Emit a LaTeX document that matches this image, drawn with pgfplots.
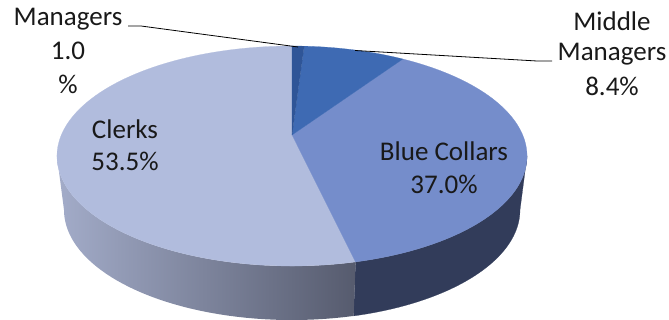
\documentclass[border=0pt]{standalone}
\usepackage{pgfplots}
\usepackage{pgfplotstable}
\usepackage{fontspec}
\setmainfont{Carlito}
\pgfplotsset{compat=1.18}

\definecolor{mgr}{HTML}{2F5597}
\definecolor{mid}{HTML}{3E6AB3}
\definecolor{blue}{HTML}{758DCB}
\definecolor{clk}{HTML}{B1BCDD}
\definecolor{bluewall}{HTML}{323C5A}
\definecolor{clkwallL}{HTML}{A3ACC9}
\definecolor{clkwallR}{HTML}{565B6E}

% Share of each occupational group, clockwise from twelve o'clock
\pgfplotstableread{
group share
Managers 1.0
Middle 8.4
Blue 37.0
Clerks 53.5
}\shares

\begin{document}
\begin{tikzpicture}[lbl/.style={font=\fontsize{27}{29}\selectfont, inner sep=0pt, text=black!90}]
\path (0,0) rectangle (669pt,320pt);

% Slice boundaries in degrees, accumulated from the shares
\pgfplotstablegetelem{0}{share}\of\shares \pgfmathsetmacro\aA{3.6*\pgfplotsretval}
\pgfplotstablegetelem{1}{share}\of\shares \pgfmathsetmacro\aB{\aA+3.6*\pgfplotsretval}
\pgfplotstablegetelem{2}{share}\of\shares \pgfmathsetmacro\aC{\aB+3.6*\pgfplotsretval}
\pgfmathsetmacro\aD{360}
% Silhouette of the disc in the tilted view
\def\sR{101}
\def\sL{259}
% Wall outlines run along the top rim, then back along the bottom rim
\pgfmathsetmacro\hB{(\aC-\sR)/45}
\pgfmathsetmacro\wallBend{2*\aC-\sR+\hB}
\pgfmathsetmacro\hC{(\sL-\aC)/45}
\pgfmathsetmacro\wallCend{2*\sL-\aC+\hC}

\begin{axis}[
  at={(0,0)}, anchor=south west,
  scale only axis, width=669pt, height=320pt,
  xmin=0, xmax=669, ymin=0, ymax=320, y dir=reverse,
  hide axis,
  samples=91,
  declare function={
    den(\t)=1+0.191*cos(\t);
    topx(\t)=292+230.7*sin(\t)/den(\t);
    topy(\t)=135-106*cos(\t)/den(\t);
    botx(\t)=292+223.8*sin(\t)/den(\t);
    boty(\t)=189-106*cos(\t)/den(\t);
  },
]
% Side wall of the disc
\addplot[draw=bluewall, line width=0.2pt, fill=bluewall, domain=\sR:\wallBend, samples=92]
  ({x<=\aC+0.01 ? topx(x) : botx(2*\aC-x+\hB)}, {x<=\aC+0.01 ? topy(x) : boty(2*\aC-x+\hB)}) -- cycle;
\addplot[draw=none, left color=clkwallL, right color=clkwallR, domain=\aC:\wallCend, samples=92]
  ({x<=\sL+0.01 ? topx(x) : botx(2*\sL-x+\hC)}, {x<=\sL+0.01 ? topy(x) : boty(2*\sL-x+\hC)}) -- cycle;

% Top face slices
\addplot[draw=clk, line width=0.2pt, fill=clk, domain=\aC:\aD] ({topx(x)},{topy(x)}) -- (axis cs:292,135) -- cycle;
\addplot[draw=blue, line width=0.2pt, fill=blue, domain=\aB:\aC] ({topx(x)},{topy(x)}) -- (axis cs:292,135) -- cycle;
\addplot[draw=mid, line width=0.2pt, fill=mid, domain=\aA:\aB] ({topx(x)},{topy(x)}) -- (axis cs:292,135) -- cycle;
\addplot[draw=mgr, line width=0.2pt, fill=mgr, domain=0:\aA, samples=9] ({topx(x)},{topy(x)}) -- (axis cs:292,135) -- cycle;

% Leader lines
\addplot[black, line width=0.8pt] coordinates {(128,26) (141,26) (298,47)};
\addplot[black, line width=0.8pt] coordinates {(355,50.5) (537,61) (552,61)};

% Data labels
\node[lbl] at (axis cs:68,19) {Managers};
\node[lbl] at (axis cs:68,51) {1.0};
\node[lbl] at (axis cs:68,84) {\%};
\node[lbl] at (axis cs:612,21) {Middle};
\node[lbl] at (axis cs:612,54) {Managers};
\node[lbl] at (axis cs:612,86) {8.4\%};
\node[lbl] at (axis cs:125,129) {Clerks};
\node[lbl] at (axis cs:125,161) {53.5\%};
\node[lbl] at (axis cs:444,151) {Blue Collars};
\node[lbl] at (axis cs:444,184) {37.0\%};
\end{axis}
\end{tikzpicture}
\end{document}
